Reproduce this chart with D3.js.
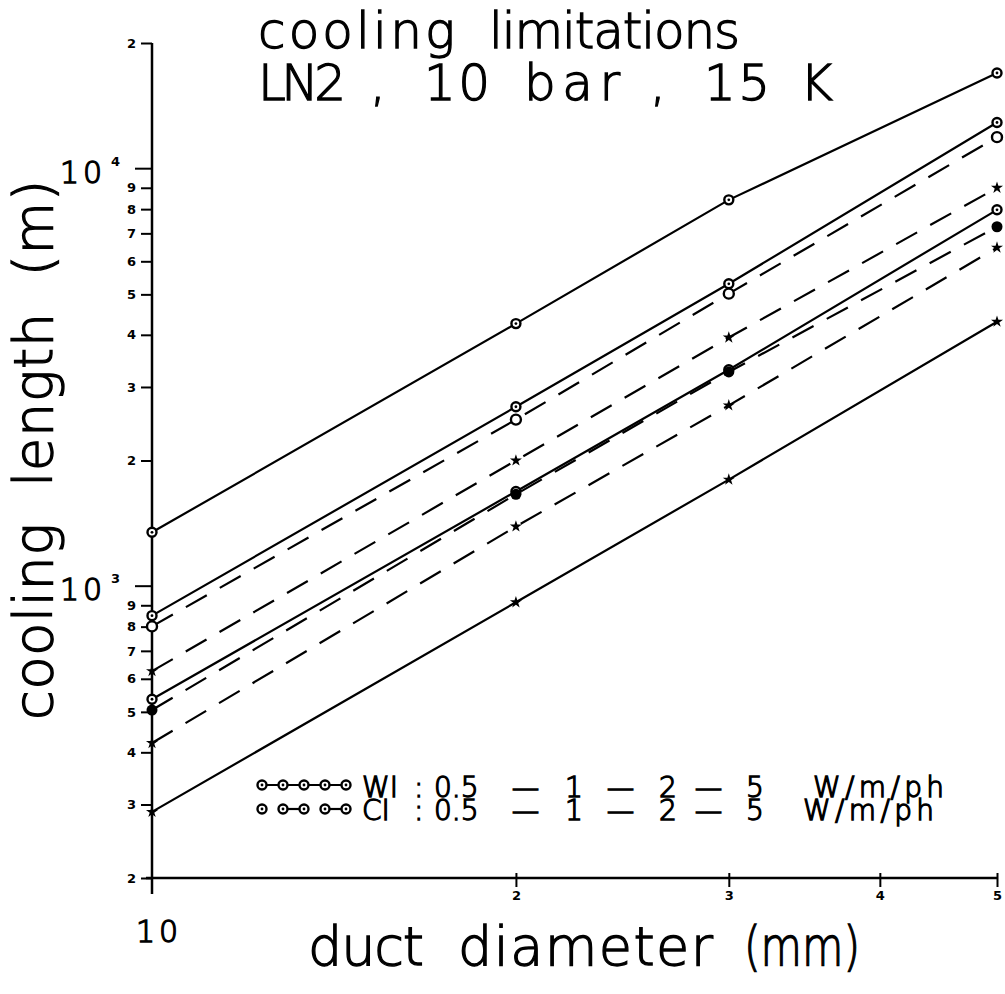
<!DOCTYPE html>
<html>
<head>
<meta charset="utf-8">
<script src="https://cdn.jsdelivr.net/npm/d3@7"></script>
<style>
  body { margin: 0; background: #fff; }
  svg { display: block; }
  .hand { font-family: "DejaVu Sans", sans-serif; font-weight: 200; fill: #000; stroke: #000; stroke-width: 1.3; white-space: pre; }
  .tick-lab { font-family: "DejaVu Sans", sans-serif; font-weight: bold; font-size: 13px; fill: #000; }
</style>
</head>
<body>
<svg id="chart" width="1005" height="994"></svg>
<script>
const svg = d3.select("#chart");

// --- data ---
const diameters = [10, 20, 30, 50];          // mm
const seriesNames = ["WI 0.5", "WI 1", "WI 2", "WI 5", "CI 0.5", "CI 1", "CI 2", "CI 5"];
const wi05 = [1346, 4255, 8420, 16950];
const wi1  = [850, 2690, 5300, 12900];
const wi2  = [536, 1686, 3300, 7970];
const wi5  = [288, 915, 1800, 4300];
const ci05 = [801, 2506, 5020, 11900];
const ci1  = [626, 2000, 3940, 9000];
const ci2  = [505, 1660, 3260, 7260];
const ci5  = [421, 1390, 2710, 6470];
const seriesValues = [wi05, wi1, wi2, wi5, ci05, ci1, ci2, ci5];
const seriesMarkers = ["circ", "circ", "circ", "star", "open", "star", "dot", "star"];
const seriesDashed = [false, false, false, false, true, true, true, true];

const yMinorTicks = [200,300,400,500,600,700,800,900,2000,3000,4000,5000,6000,7000,8000,9000,20000];
const yDecades = [1000, 10000];
const xMinorTicks = [20, 30, 40, 50];
const xTickLabels = ["2", "3", "4", "5"];
const legendWords = ["0.5", "1", "2", "5"];

// --- scales ---
const x = d3.scaleLog().domain([10, 50]).range([152, 997]);
const y = d3.scaleLog().domain([200, 20000]).range([878, 43]);

// text helper: one word at a spot, optionally fitted to a width
function word(s, px, py, size, len, adj) {
  const t = svg.append("text").attr("class", "hand").attr("x", px).attr("y", py)
    .attr("font-size", size).text(s);
  if (len) t.attr("textLength", len).attr("lengthAdjust", adj || "spacing");
  return t;
}

// --- axes ---
const yAxis = d3.axisLeft(y)
    .tickValues(yMinorTicks)
    .tickSize(11)
    .tickPadding(5)
    .tickFormat(d => String(d).charAt(0));
const yg = svg.append("g").attr("transform", "translate(152,0)").call(yAxis);
yg.select(".domain").remove();
yg.selectAll("line").attr("stroke", "#000").attr("stroke-width", 2);
yg.selectAll("text").attr("class", "tick-lab").attr("font-size", null).attr("font-family", null);

// decade ticks (longer)
svg.append("g").selectAll("line")
  .data(yDecades).enter().append("line")
    .attr("x1", 135).attr("x2", 152)
    .attr("y1", d => y(d)).attr("y2", d => y(d))
    .attr("stroke", "#000").attr("stroke-width", 2);

const xAxis = d3.axisBottom(x)
    .tickValues(xMinorTicks)
    .tickSize(9)
    .tickPadding(4)
    .tickFormat((d, i) => xTickLabels[i]);
const xg = svg.append("g").attr("transform", "translate(0,878)").call(xAxis);
xg.select(".domain").remove();
xg.selectAll("line").attr("stroke", "#000").attr("stroke-width", 2).attr("y1", -5);
xg.selectAll("text").attr("class", "tick-lab").attr("font-size", null).attr("font-family", null);

// axis lines
svg.append("line").attr("x1", 152).attr("x2", 152).attr("y1", y(20000)).attr("y2", 894)
   .attr("stroke", "#000").attr("stroke-width", 2.5);
svg.append("line").attr("x1", 146).attr("x2", x(50)).attr("y1", 878).attr("y2", 878)
   .attr("stroke", "#000").attr("stroke-width", 2.5);

// decade labels 10^3, 10^4
yDecades.forEach(d => {
  word("10", 60, y(d) + 14, 30, 42);
  svg.append("text").attr("class", "tick-lab").attr("x", 111).attr("y", y(d) - 3)
     .text(String(Math.log10(d)));
});
word("10", 136, 942, 30, 42);

// --- lines ---
const line = d3.line()
    .x((d, i) => x(diameters[i]))
    .y(d => y(d));

svg.append("g").selectAll("path")
  .data(seriesValues).enter().append("path")
    .attr("d", line)
    .attr("fill", "none")
    .attr("stroke", "#000")
    .attr("stroke-width", 2.2)
    .attr("stroke-dasharray", (d, i) => seriesDashed[i] ? "24,15" : null);

function drawMarker(g, type, cx, cy) {
  if (type === "circ") {
    g.append("circle").attr("cx", cx).attr("cy", cy).attr("r", 4.5)
     .attr("fill", "#fff").attr("stroke", "#000").attr("stroke-width", 2.4);
    g.append("circle").attr("cx", cx).attr("cy", cy).attr("r", 1.4).attr("fill", "#000");
  } else if (type === "open") {
    g.append("circle").attr("cx", cx).attr("cy", cy).attr("r", 5)
     .attr("fill", "#fff").attr("stroke", "#000").attr("stroke-width", 2.4);
  } else if (type === "dot") {
    g.append("circle").attr("cx", cx).attr("cy", cy).attr("r", 5.5).attr("fill", "#000");
  } else {
    g.append("path").attr("transform", `translate(${cx},${cy})`)
     .attr("d", d3.symbol(d3.symbolStar, 45)()).attr("fill", "#000");
  }
}

const markG = svg.append("g");
seriesValues.forEach((vals, si) => {
  vals.forEach((v, i) => drawMarker(markG, seriesMarkers[si], x(diameters[i]), y(v)));
});

// --- legend ---
const legendX = [262, 283, 304, 325, 346];
const lg = svg.append("g");
lg.append("line").attr("x1", legendX[0]).attr("x2", legendX[4]).attr("y1", 785).attr("y2", 785)
  .attr("stroke", "#000").attr("stroke-width", 2.2);
[[1, 2], [3, 4]].forEach(p => {
  lg.append("line").attr("x1", legendX[p[0]]).attr("x2", legendX[p[1]]).attr("y1", 809).attr("y2", 809)
    .attr("stroke", "#000").attr("stroke-width", 2.2);
});
legendX.forEach(lx => {
  drawMarker(lg, "circ", lx, 785);
  drawMarker(lg, "circ", lx, 809);
});

function legendRow(label, yb, unitX) {
  word(label, 362, yb, 28);
  word(":", 414, yb, 28);
  const numX = [434, 565, 659, 746];
  legendWords.forEach((w, i) => word(w, numX[i], yb, 28));
  [511, 606, 694].forEach(dx => word("\u2013", dx, yb, 28, 29, "spacingAndGlyphs"));
  word("W/m/ph", unitX, yb, 28, 131);
}
legendRow("WI", 797, 813);
legendRow("CI", 820, 803);

// --- titles ---
word("cooling", 258, 48, 50, 197);
word("limitations", 489, 48, 50, 251);
word("LN2", 258, 100, 50, 88);
word(",", 370, 100, 50);
word("10", 424, 100, 50, 66);
word("bar", 524, 100, 50, 96);
word(",", 650, 100, 50);
word("15", 704, 100, 50, 66);
word("K", 800, 100, 50);

// axis titles
word("duct", 308, 965, 54, 116);
word("diameter", 458, 965, 54, 255);
word("(mm)", 744, 965, 54, 116, "spacingAndGlyphs");

svg.append("text").attr("class", "hand")
   .attr("transform", "translate(52,720) rotate(-90)")
   .attr("font-size", 54)
   .attr("textLength", 540).attr("lengthAdjust", "spacing").text("cooling  length  (m)");
</script>
</body>
</html>
